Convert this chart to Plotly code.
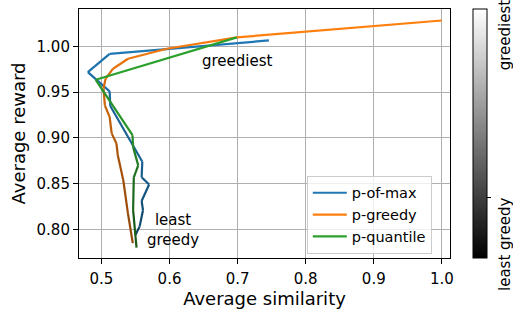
import plotly.graph_objects as go

# ---- data (ordered from greediest to least greedy) ----
series_names = ["p-of-max", "p-greedy", "p-quantile"]
base_colors = ["#1f77b4", "#ff7f0e", "#2ca02c"]

pofmax_sim = [0.746, 0.512, 0.480, 0.512, 0.513, 0.560, 0.559, 0.570, 0.559, 0.561, 0.556, 0.550]
pofmax_rew = [1.0066, 0.992, 0.972, 0.951, 0.935, 0.874, 0.857, 0.849, 0.831, 0.821, 0.803, 0.794]

pgreedy_sim = [1.000, 0.699, 0.596, 0.539, 0.517, 0.506, 0.503, 0.505, 0.512, 0.515, 0.522, 0.524, 0.532, 0.539, 0.546]
pgreedy_rew = [1.0284, 1.010, 0.9975, 0.9866, 0.9757, 0.9647, 0.954, 0.9356, 0.923, 0.905, 0.894, 0.881, 0.854, 0.817, 0.785]

pquant_sim = [0.699, 0.4916, 0.5456, 0.5465, 0.554, 0.5475, 0.5465, 0.5515]
pquant_rew = [1.010, 0.9636, 0.903, 0.890, 0.870, 0.857, 0.821, 0.780]

x_ticks = [0.5, 0.6, 0.7, 0.8, 0.9, 1.0]
y_ticks = [0.80, 0.85, 0.90, 0.95, 1.00]

FONT = "DejaVu Sans"
FS = 15


def shade(hex_color, f):
    h = hex_color.lstrip("#")
    r, g, b = (int(h[i:i + 2], 16) for i in (0, 2, 4))
    return "rgb(%d,%d,%d)" % (r * f, g * f, b * f)


fig = go.Figure()

all_series = [(pofmax_sim, pofmax_rew), (pgreedy_sim, pgreedy_rew), (pquant_sim, pquant_rew)]
for name, col, (xs, ys) in zip(series_names, base_colors, all_series):
    n = len(xs)
    for i in range(n - 1):
        t = i / max(n - 2, 1)
        f = 1.0 - 0.42 * t
        fig.add_trace(go.Scatter(x=[xs[i], xs[i + 1]], y=[ys[i], ys[i + 1]], mode="lines",
                                 line=dict(color=shade(col, f), width=2.2),
                                 showlegend=False, hoverinfo="skip"))
    fig.add_trace(go.Scatter(x=[None], y=[None], mode="lines", name=name,
                             line=dict(color=col, width=2.2), legendgroup=name))

# colorbar (greediness)
fig.add_trace(go.Scatter(
    x=[None], y=[None], mode="markers", showlegend=False, hoverinfo="skip",
    marker=dict(color=[0, 1], cmin=0, cmax=1,
                colorscale=[[0, "black"], [1, "white"]], showscale=True,
                colorbar=dict(x=1.062, xanchor="left", xpad=0, y=0.5, yanchor="middle",
                              len=1, lenmode="fraction", thickness=14, ypad=0,
                              outlinewidth=1, outlinecolor="black",
                              tickvals=[0.245], ticktext=[""], ticks="outside",
                              ticklen=4, tickcolor="black"))))

fig.update_layout(
    width=513, height=310,
    margin=dict(l=79, r=63, t=9, b=52, autoexpand=False),
    paper_bgcolor="white", plot_bgcolor="white",
    font=dict(family=FONT, size=FS, color="black"),
    legend=dict(x=0.614, y=0.33, xanchor="left", yanchor="top",
                bgcolor="rgba(255,255,255,0.8)", bordercolor="#cccccc", borderwidth=1,
                font=dict(size=14.5), tracegroupgap=0, itemwidth=34),
    xaxis=dict(range=[0.467, 1.012], tickvals=x_ticks, tickformat=".1f",
               showgrid=True, gridcolor="#b0b0b0", gridwidth=1,
               showline=True, linecolor="black", linewidth=1.1, mirror=True,
               ticks="outside", ticklen=5, tickcolor="black", zeroline=False,
               automargin=False, ticklabelstandoff=2,
               title=dict(text="Average similarity", standoff=4)),
    yaxis=dict(range=[0.7687, 1.041], tickvals=y_ticks, tickformat=".2f",
               showgrid=True, gridcolor="#b0b0b0", gridwidth=1,
               showline=True, linecolor="black", linewidth=1.1, mirror=True,
               ticks="outside", ticklen=5, tickcolor="black", zeroline=False,
               automargin=False,
               title=dict(text="Average reward", standoff=6)),
    annotations=[
        dict(x=0.7004, y=0.984, xref="x", yref="y", text="greediest", showarrow=False,
             font=dict(size=FS)),
        dict(x=0.605, y=0.7997, xref="x", yref="y", text="least<br>greedy", showarrow=False,
             font=dict(size=FS)),
        dict(x=1.148, y=0.898, xref="paper", yref="paper", text="greediest", textangle=-90,
             xanchor="center", yanchor="middle", showarrow=False, font=dict(size=FS)),
        dict(x=1.148, y=0.056, xref="paper", yref="paper", text="least greedy", textangle=-90,
             xanchor="center", yanchor="middle", showarrow=False, font=dict(size=FS)),
    ],
)

fig.write_html("out.html", config={"displayModeBar": False},
               post_script="document.body.style.margin='0';")
